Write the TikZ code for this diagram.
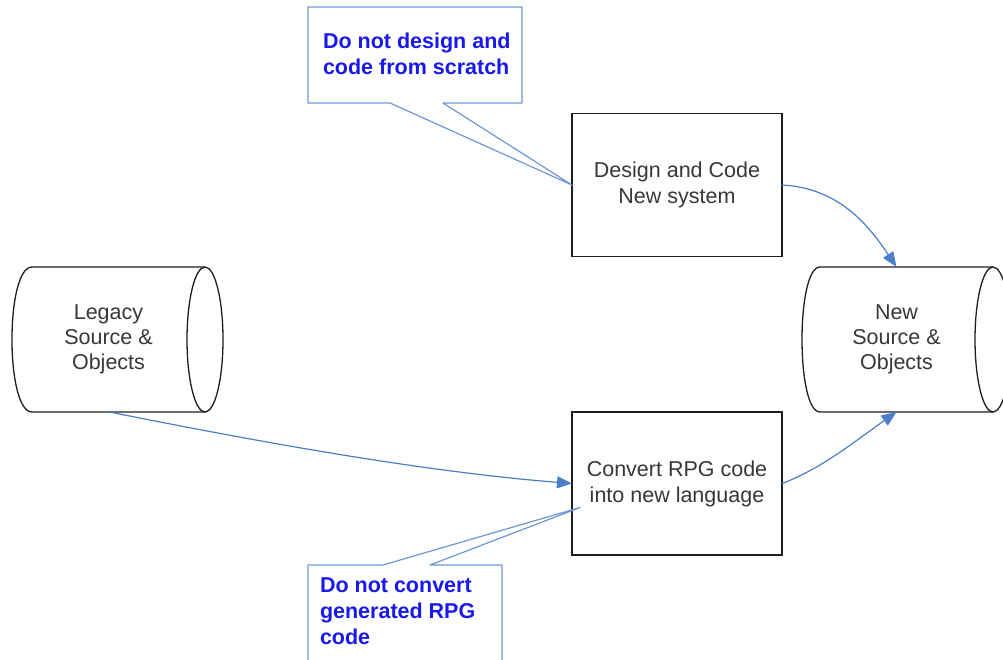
\documentclass[tikz,border=0pt]{standalone}
\usepackage{fontspec}
\setmainfont{Liberation Sans}
\usetikzlibrary{arrows.meta,calc}
\definecolor{linkblue}{RGB}{74,126,200}
\definecolor{calloutedge}{RGB}{110,150,215}
\definecolor{notecolor}{RGB}{25,25,235}
\definecolor{bodytext}{RGB}{55,55,55}
\definecolor{edgecolor}{RGB}{30,30,30}
\begin{document}
\begin{tikzpicture}[x=1pt,y=-1pt,
  every node/.style={outer sep=0pt},
  procbox/.style={draw=edgecolor, line width=1.3pt, minimum width=210pt,
    minimum height=143pt, text=bodytext, align=center,
    font=\fontsize{21.5}{26}\selectfont},
  storebody/.style={minimum width=173pt, minimum height=145pt, inner sep=0pt},
  storetext/.style={text=bodytext, align=center, inner sep=0pt,
    font=\fontsize{21.5}{25}\selectfont},
  storeline/.style={draw=edgecolor, line width=1.3pt},
  notetext/.style={text=notecolor, align=left, inner sep=0pt,
    font=\bfseries\fontsize{21.5}{26}\selectfont},
  callout/.style={draw=calloutedge, line width=1.2pt, line join=round},
  flow/.style={draw=linkblue, line width=1.2pt,
    -{Triangle[length=15pt,width=12pt]}}]
\useasboundingbox (0,0) rectangle (1003,659);

% process boxes
\node[procbox] (design)  at (677,185)   {Design and Code\\New system};
\node[procbox] (convert) at (677,483.5) {Convert RPG code\\into new language};

% stored data: legacy source
\node[storebody] (legacy) at (118.5,339.5) {};
\draw[storeline] (legacy.north west) -- (legacy.north east)
  (legacy.south west) -- (legacy.south east)
  (legacy.north west) .. controls +(-26.7,0) and +(-26.7,0) .. (legacy.south west);
\draw[storeline] (legacy.east) ellipse [x radius=18, y radius=72.5];
\node[storetext] (legacylabel) at ([xshift=-10pt]legacy.center)
  {Legacy\\Source \&\\Objects};

% stored data: new source
\node[storebody] (new) at (906.5,339.5) {};
\draw[storeline] (new.north west) -- (new.north east)
  (new.south west) -- (new.south east)
  (new.north west) .. controls +(-24,0) and +(-24,0) .. (new.south west);
\draw[storeline] (new.east) ellipse [x radius=18, y radius=72.5];
\node[storetext] (newlabel) at ([xshift=-10pt]new.center)
  {New\\Source \&\\Objects};

% flows
\draw[flow] ([xshift=-9pt]legacy.south) .. controls +(150,30) and +(-150,-12) .. (convert.west);
\draw[flow] (convert.east) .. controls +(40,-15) and +(-40,28) .. ([xshift=-10pt]new.south);
\draw[flow] (design.east) .. controls +(55,3) and +(-30,-45) .. ([xshift=-10pt]new.north);

% callouts
\coordinate (tip1) at (design.west);
\coordinate (tip2) at ([shift={(8,24)}]convert.west);
\draw[callout] (308,7) -- (522,7) -- (522,103) -- (443,103) -- (tip1)
  -- (390,103) -- (308,103) -- cycle;
\node[notetext, anchor=north west] (note1) at (323,33.3)
  {Do not design and\\code from scratch};

\draw[callout] (308,690) -- (308,565) -- (383,565) -- (tip2) -- (430,565)
  -- (502,565) -- (502,690);
\node[notetext, anchor=north west] (note2) at (320,577.3)
  {Do not convert\\generated RPG\\code};
\end{tikzpicture}
\end{document}
